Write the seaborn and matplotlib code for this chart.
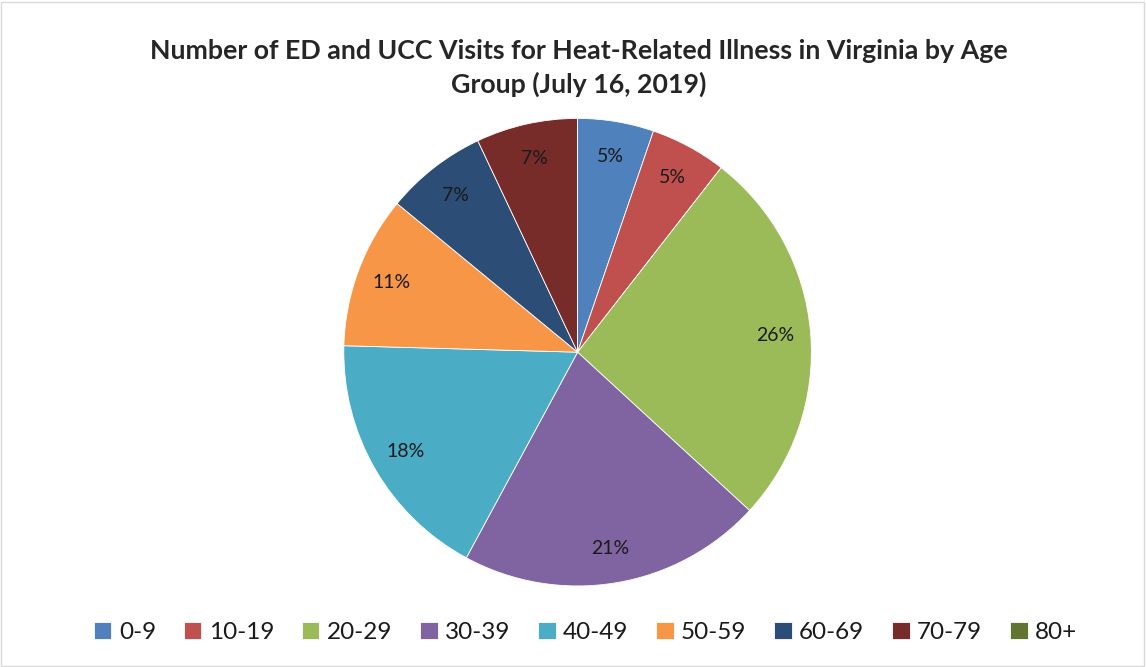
import matplotlib.pyplot as plt
import seaborn as sns
from matplotlib.patches import Rectangle

age_groups = ["0-9", "10-19", "20-29", "30-39", "40-49", "50-59", "60-69", "70-79", "80+"]
visits = [3, 3, 15, 12, 10, 6, 4, 4, 0]
colors = ["#4F81BD", "#C0504D", "#9BBB59", "#8064A2", "#4BACC6",
          "#F79646", "#2C4D75", "#772C2A", "#5F7530"]

sns.set_theme(style="white")
plt.rcParams["font.family"] = ["Lato", "DejaVu Sans"]

fig = plt.figure(figsize=(11.46, 6.67), dpi=100)
ax = fig.add_axes([0.300, 0.121, 0.408, 0.702])


def pct_label(p):
    return f"{p:.0f}%" if p > 0.5 else ""


wedges, texts, autotexts = ax.pie(
    visits,
    colors=colors,
    startangle=90,
    counterclock=False,
    autopct=pct_label,
    pctdistance=0.85,
    wedgeprops={"edgecolor": "white", "linewidth": 0.6},
    textprops={"fontsize": 14, "color": "#1a1a1a"},
)
ax.set_aspect("equal")
ax.set_xlim(-1, 1)
ax.set_ylim(-1, 1)

fig.text(0.505, 0.898, "Number of ED and UCC Visits for Heat-Related Illness in Virginia by Age\nGroup (July 16, 2019)",
         ha="center", va="center", fontsize=19.3, fontweight="bold", color="#262626",
         linespacing=1.42)

fig.legend(wedges, age_groups, loc="center", bbox_to_anchor=(0.511, 0.052), ncol=9,
           frameon=False, fontsize=17.5, handlelength=0.72, handleheight=0.72,
           handletextpad=0.3, columnspacing=1.15, labelcolor="#1a1a1a")

fig.add_artist(Rectangle((0.001, 0.002), 0.997, 0.995, transform=fig.transFigure,
                         fill=False, edgecolor="#D9D9D9", linewidth=1))

fig.savefig("out.png", dpi=100)
